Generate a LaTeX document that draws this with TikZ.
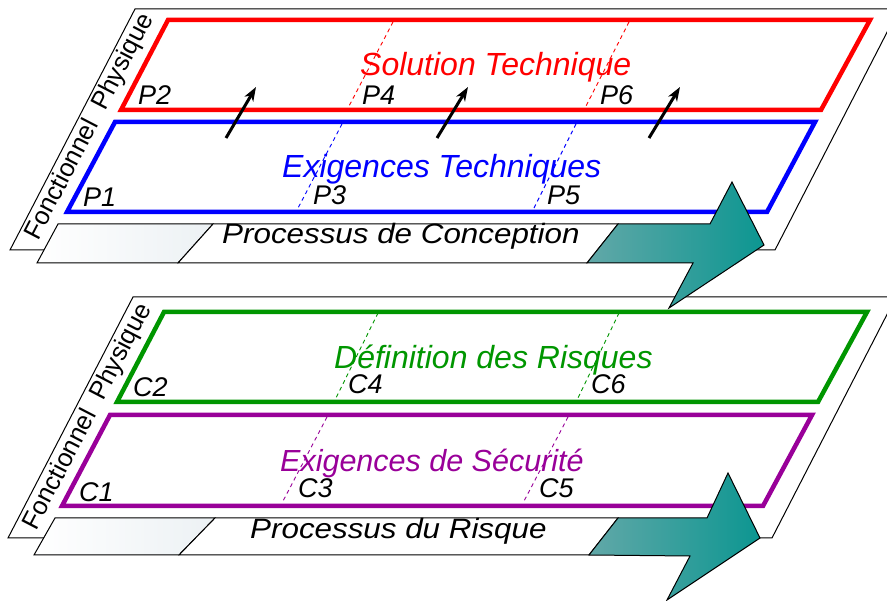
\documentclass[tikz,border=0pt]{standalone}
\usepackage{fontspec}
\setmainfont{Liberation Sans}
\usetikzlibrary{arrows.meta}
\definecolor{cred}{RGB}{255,0,0}
\definecolor{cblue}{RGB}{0,0,255}
\definecolor{cgreen}{RGB}{0,150,0}
\definecolor{cpurple}{RGB}{153,0,153}
\definecolor{tealL}{RGB}{98,168,168}
\definecolor{tealR}{RGB}{12,150,145}
\definecolor{stripR}{RGB}{236,241,244}
\tikzset{
  bgpar/.style={draw=black, line width=1pt, fill=white, line join=miter},
  frame/.style={line width=4.5pt, line join=miter},
  guide/.style={line width=0.9pt, dash pattern=on 4pt off 3.5pt},
  title/.style={font=\fontsize{32}{36}\selectfont\itshape, inner sep=0pt, anchor=base west},
  plabel/.style={font=\fontsize{27}{30}\selectfont\itshape, inner sep=0pt, anchor=base west},
  side/.style={font=\fontsize{25.5}{28}\selectfont, inner sep=0pt, rotate=62.6},
  stripbox/.style={draw=black, line width=1pt, line join=miter},
  proc/.style={font=\fontsize{28}{32}\selectfont\itshape, inner sep=0pt, anchor=base west, xscale=1.12},
  bigarrow/.style={draw=black, line width=1pt, line join=miter, left color=tealL, right color=tealR},
  upar/.style={line width=3pt, -{Stealth[length=14pt,width=10pt,inset=4pt]}}
}
\begin{document}
\begin{tikzpicture}[x=1pt,y=-1pt]
\useasboundingbox (0,0) rectangle (887,601);
\clip (0,0) rectangle (887,601);
% ================= lower group =================
\draw[bgpar] (133,297) -- (896,297) -- (772,538) -- (8,538) -- cycle;
\draw[frame, cgreen] (164,312) -- (867,312) -- (818,402) -- (117,402) -- cycle;
\draw[frame, cpurple] (110,415) -- (812,415) -- (763,506) -- (62,506) -- cycle;
\draw[guide, cgreen] (378,313) -- (335,400);
\draw[guide, cgreen] (619,313) -- (577,400);
\draw[guide, cpurple] (327,417) -- (282,503);
\draw[guide, cpurple] (568,417) -- (523,503);
\node[side] (fp2) at (88,417) {Fonctionnel\ \ Physique};
\node[title, cgreen] (t3) at (334,369) {Définition des Risques};
\node[title, cpurple, font=\fontsize{30.5}{34}\selectfont\itshape] (t4) at (280,472) {Exigences de Sécurité};
\node[plabel] (c1) at (79,502) {C1};
\node[plabel] (c2) at (133,397) {C2};
\node[plabel] (c3) at (298,498) {C3};
\node[plabel] (c4) at (348,394) {C4};
\node[plabel] (c5) at (539,498) {C5};
\node[plabel] (c6) at (591,394) {C6};
\shade[left color=white, right color=stripR] (55,518) -- (215,518) -- (179,555) -- (34,555) -- cycle;
\draw[stripbox] (55,518) -- (215,518) -- (179,555) -- (34,555) -- cycle;
\draw[stripbox, fill=white] (215,518) -- (618,518) -- (589,555) -- (179,555) -- cycle;
\node[proc] (pr2) at (250,539) {Processus du Risque};
\draw[bigarrow] (589,555) -- (618,518) -- (707,518) -- (728,473) -- (760,538) -- (667,600) -- (690,556) -- cycle;
% ================= upper group =================
\draw[bgpar] (135,9) -- (899,9) -- (775,250) -- (10,250) -- cycle;
\draw[frame, cred] (168,20) -- (870,20) -- (821,110) -- (121,110) -- cycle;
\draw[frame, cblue] (115,122) -- (815,122) -- (767,212) -- (67,212) -- cycle;
\draw[guide, cred] (393,22) -- (348,108);
\draw[guide, cred] (629,22) -- (585,108);
\draw[guide, cblue] (342,124) -- (297,210);
\draw[guide, cblue] (576,124) -- (533,210);
\node[side] (fp1) at (90,127) {Fonctionnel\ \ Physique};
\node[title, cred] (t1) at (360,76) {Solution Technique};
\node[title, cblue] (t2) at (282,178) {Exigences Techniques};
\node[plabel] (p1) at (83,207) {P1};
\node[plabel] (p2) at (138,105) {P2};
\node[plabel] (p3) at (313,205) {P3};
\node[plabel] (p4) at (362,105) {P4};
\node[plabel] (p5) at (547,205) {P5};
\node[plabel] (p6) at (600,105) {P6};
\coordinate (a1s) at (226,138); \coordinate (a1e) at (256,87);
\coordinate (a2s) at (437,138); \coordinate (a2e) at (468,87);
\coordinate (a3s) at (649,138); \coordinate (a3e) at (680,87);
\draw[upar] (a1s) -- (a1e);
\draw[upar] (a2s) -- (a2e);
\draw[upar] (a3s) -- (a3e);
\shade[left color=white, right color=stripR] (58,224) -- (213,224) -- (178,263) -- (37,263) -- cycle;
\draw[stripbox] (58,224) -- (213,224) -- (178,263) -- (37,263) -- cycle;
\draw[stripbox, fill=white] (213,224) -- (618,224) -- (587,263) -- (178,263) -- cycle;
\node[proc] (pr1) at (222,244) {Processus de Conception};
\draw[bigarrow] (587,263) -- (618,224) -- (710,224) -- (732,182) -- (764,245) -- (669,308) -- (693,263) -- cycle;
\end{tikzpicture}
\end{document}
